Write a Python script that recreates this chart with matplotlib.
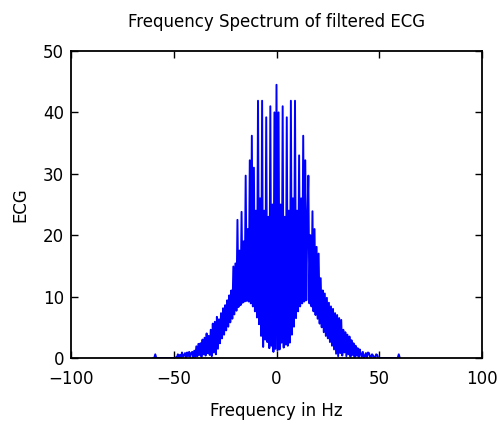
#!/usr/bin/env python3
"""plot.py
Frequency spectrum of a filtered ECG, drawn like the old MATLAB figure.
"""
import numpy as np
from matplotlib import pyplot as plt
import matplotlib

matplotlib.use("Agg")

# Spectrum magnitude, one value every 0.5 Hz from -60 to 60 Hz.
# Each row is 5 Hz: value at f and at f + 0.5 for each Hz.
freq_start_hz = -60.0
freq_step_hz = 0.5
ecg_magnitude = [
    0, 0,   0.6, 0,   0, 0,   0, 0,   0, 0,          # -60 .. -55.5
    0, 0,   0, 0,   0, 0,   0, 0,   0, 0,            # -55 .. -50.5
    0, 0,   0.1, 0,   0.6, 0.1,   0.5, 0,   0.9, 0.2,  # -50 .. -45.5
    0.4, 0.8,   0.1, 0.9,   0.3, 1.0,   0.2, 0.8,   1.0, 0.1,  # -45 .. -40.5
    1.2, 0.2,   1.9, 0.3,   2.3, 0.5,   2.4, 0.2,   3.0, 0.6,  # -40 .. -35.5
    3.3, 0.4,   4.0, 0.8,   3.6, 0.5,   4.6, 0.3,   5.6, 0.9,  # -35 .. -30.5
    5.9, 0.6,   6.7, 1.5,   6.3, 2.4,   7.3, 3.2,   8.1, 3.8,  # -30 .. -25.5
    8.6, 4.5,   9.4, 5.1,   10.2, 5.8,   11.0, 6.4,   14.9, 7.1,  # -25 .. -20.5
    15.4, 7.7,   22.5, 8.3,   17.5, 8.6,   23.8, 9.0,   19.0, 9.2,  # -20 .. -15.5
    29.7, 9.3,   21.0, 9.2,   32.2, 8.9,   36.2, 8.4,   31.0, 7.6,  # -15 .. -10.5
    24.0, 6.6,   41.9, 5.5,   26.0, 3.6,   41.9, 1.8,   24.0, 3.0,  # -10 .. -5.5
    39.2, 2.6,   23.0, 1.6,   41.0, 2.0,   25.0, 1.0,   40.0, 1.5,  # -5 .. -0.5
    44.5, 1.2,   40.0, 1.4,   25.0, 2.5,   41.0, 1.7,   23.0, 2.2,  # 0 .. 4.5
    39.2, 2.0,   24.0, 2.5,   41.9, 3.8,   26.0, 5.1,   41.9, 6.5,  # 5 .. 9.5
    24.0, 7.6,   33.0, 8.4,   26.0, 8.9,   36.2, 9.2,   32.2, 9.4,  # 10 .. 14.5
    22.0, 29.7,   8.9, 20.0,   8.4, 23.9,   7.6, 21.0,   7.0, 18.1,  # 15 .. 19.5
    6.4, 17.0,   5.6, 13.0,   5.0, 11.0,   4.2, 10.5,   3.6, 9.8,  # 20 .. 24.5
    3.2, 9.0,   2.6, 8.4,   2.0, 8.0,   1.4, 7.3,   0.7, 7.0,  # 25 .. 29.5
    0.3, 6.5,   0.8, 6.2,   0.4, 4.6,   0.9, 4.2,   0.3, 3.8,  # 30 .. 34.5
    0.6, 3.5,   0.2, 2.9,   0.5, 2.4,   0.1, 2.0,   0.4, 1.6,  # 35 .. 39.5
    0.1, 1.4,   0.6, 0.2,   1.0, 0.1,   0.3, 0.8,   0.1, 0.9,  # 40 .. 44.5
    0.8, 0.2,   0.1, 0.6,   0.4, 0,   0.1, 0.6,   0.5, 0,  # 45 .. 49.5
    0, 0,   0, 0,   0, 0,   0, 0,   0, 0,            # 50 .. 54.5
    0, 0,   0, 0,   0, 0,   0, 0,   0, 0.6,          # 55 .. 59.5
    0,                                               # 60
]
freq_hz = freq_start_hz + freq_step_hz * np.arange(len(ecg_magnitude))

x_ticks = [-100, -50, 0, 50, 100]
y_ticks = [0, 10, 20, 30, 40, 50]

plt.rcParams["font.family"] = "DejaVu Sans"
plt.rcParams["font.size"] = 12

fig = plt.figure(figsize=(4.97, 4.26), dpi=100)
ax = fig.add_axes([71 / 497, 68 / 426, 411 / 497, 307 / 426])

ax.plot(freq_hz, ecg_magnitude, color=(0, 0, 1), linewidth=1.4)

ax.set_xlim(-100, 100)
ax.set_ylim(0, 50)
ax.set_xticks(x_ticks)
ax.set_yticks(y_ticks)

# MATLAB style box: ticks inside on all four sides
ax.tick_params(direction="in", length=5, width=1, top=True, right=True,
               labelsize=12, pad=9)
ax.tick_params(axis="y", pad=5)
for spine in ax.spines.values():
    spine.set_linewidth(1.3)

ax.set_title("Frequency Spectrum of filtered ECG", fontsize=12, pad=17)
ax.set_xlabel("Frequency in Hz", fontsize=12, labelpad=10)
ax.set_ylabel("ECG", fontsize=12, labelpad=10)

fig.savefig("out.png", dpi=100)
